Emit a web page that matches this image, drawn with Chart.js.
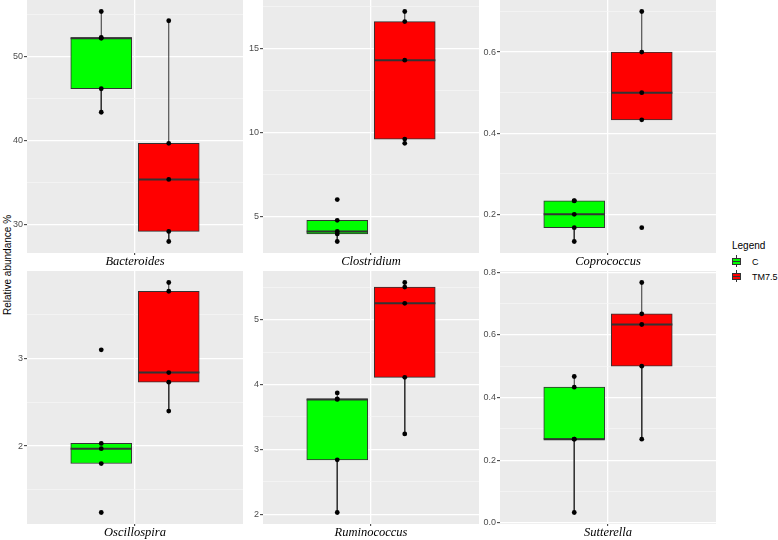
<!DOCTYPE html>
<html>
<head>
<meta charset="utf-8">
<script src="https://cdn.jsdelivr.net/npm/chart.js@4.4.0/dist/chart.umd.min.js"></script>
<style>
  body { margin: 0; width: 778px; height: 540px; overflow: hidden; position: relative; background: #fff;
         font-family: "Liberation Sans", Arial, sans-serif; }
  canvas { position: absolute; }
  #ytitle { position: absolute; left: 7px; top: 265px; transform: translate(-50%, -50%) rotate(-90deg);
            font-size: 10px; white-space: nowrap; color: #000; }
  .lgTitle { position: absolute; left: 732px; top: 245px; transform: translateY(-50%); font-size: 10px; color: #000; }
  .lgLab { position: absolute; left: 752px; font-size: 9px; color: #000; transform: translateY(-50%); }
  .key { position: absolute; left: 732px; width: 9px; height: 12px; }
  .key .wh { position: absolute; left: 4px; top: 0; width: 1px; height: 12px; background: #333; }
  .key .bx { position: absolute; left: 0; top: 3px; width: 7px; height: 5px; border: 1px solid #333; }
  .key .md { position: absolute; left: 0; top: 5.5px; width: 9px; height: 1.5px; background: #333; }
</style>
</head>
<body>
<div id="ytitle">Relative abundance %</div>
<div class="lgTitle">Legend</div>
<div class="key" style="top:255px"><span class="wh"></span><span class="bx" style="background:#00FF00"></span><span class="md"></span></div>
<div class="lgLab" style="top:262px">C</div>
<div class="key" style="top:270px"><span class="wh"></span><span class="bx" style="background:#FF0000"></span><span class="md"></span></div>
<div class="lgLab" style="top:277px">TM7.5</div>
<script>
// genus panels, in facet order
const taxa = ['Bacteroides', 'Clostridium', 'Coprococcus', 'Oscillospira', 'Ruminococcus', 'Sutterella'];
const groups = ['C', 'TM7.5'];
const groupColors = ['#00FF00', '#FF0000'];

// relative abundance (%) per sample
const cValues = [
  [43.4, 46.2, 52.2, 52.3, 55.4],
  [3.5, 3.95, 4.1, 4.76, 6.0],
  [0.133, 0.167, 0.2, 0.233, 0.234],
  [1.24, 1.8, 1.97, 2.03, 3.1],
  [2.03, 2.84, 3.77, 3.78, 3.87],
  [0.033, 0.267, 0.267, 0.433, 0.467]
];
const tmValues = [
  [28.0, 29.2, 35.4, 39.7, 54.3],
  [9.35, 9.6, 14.3, 16.6, 17.2],
  [0.167, 0.433, 0.5, 0.6, 0.7],
  [2.4, 2.73, 2.84, 3.77, 3.87],
  [3.24, 4.11, 5.25, 5.5, 5.57],
  [0.267, 0.5, 0.633, 0.667, 0.767]
];

// y ticks per panel
const yMajor = [[30, 40, 50], [5, 10, 15], [0.2, 0.4, 0.6], [2, 3], [2, 3, 4, 5], [0, 0.2, 0.4, 0.6, 0.8]];
const yLabels = [['30', '40', '50'], ['5', '10', '15'], ['0.2', '0.4', '0.6'], ['2', '3'], ['2', '3', '4', '5'],
                 ['0.0', '0.2', '0.4', '0.6', '0.8']];
const yMinor = [[35, 45, 55], [7.5, 12.5, 17.5], [0.3, 0.5, 0.7], [1.5, 2.5, 3.5], [2.5, 3.5, 4.5, 5.5], [0.1, 0.3, 0.5, 0.7]];

const groupX = [0.8125, 1.1875];
const halfBox = 0.17;
const panelLeft = [27, 263, 500];
const panelTop = [0, 271];
const PW = 216, PH = 253, AXW = 27, AXH = 18, PADT = 6;

function quant(s, p){
  const h = (s.length - 1) * p, lo = Math.floor(h);
  const hi = Math.min(lo + 1, s.length - 1);
  return s[lo] + (h - lo) * (s[hi] - s[lo]);
}
function boxStats(vals){
  const s = [...vals].sort((a, b) => a - b);
  const q1 = quant(s, 0.25), med = quant(s, 0.5), q3 = quant(s, 0.75);
  const iqr = q3 - q1;
  const lo = Math.min(...s.filter(v => v >= q1 - 1.5 * iqr));
  const hi = Math.max(...s.filter(v => v <= q3 + 1.5 * iqr));
  return { q1, med, q3, lo, hi };
}

const panelBg = {
  id: 'panelBg',
  beforeDraw(chart){
    const { ctx, chartArea: a } = chart;
    ctx.save();
    ctx.fillStyle = '#EBEBEB';
    ctx.fillRect(a.left, a.top, a.right - a.left, a.bottom - a.top);
    ctx.restore();
  }
};

function makePanel(i){
  const row = Math.floor(i / 3), col = i % 3;
  const cv = document.createElement('canvas');
  cv.width = AXW + PW; cv.height = PADT + PH + AXH;
  cv.style.left = (panelLeft[col] - AXW) + 'px';
  cv.style.top = (panelTop[row] - PADT) + 'px';
  document.body.appendChild(cv);

  const all = cValues[i].concat(tmValues[i]);
  const mn = Math.min(...all), mx = Math.max(...all), pad = (mx - mn) * 0.05;
  const ymin = mn - pad, ymax = mx + pad;
  const majors = yMajor[i];
  const ticks = majors.concat(yMinor[i]).filter(v => v >= ymin && v <= ymax).sort((a, b) => a - b);
  const isMajor = v => majors.includes(v);

  const stats = [boxStats(cValues[i]), boxStats(tmValues[i])];
  const whiskers = [], medians = [], dots = [];
  stats.forEach((s, g) => {
    const x = groupX[g];
    if (s.hi > s.q3) whiskers.push({ x, y: s.q3 }, { x, y: s.hi }, { x, y: null });
    if (s.lo < s.q1) whiskers.push({ x, y: s.q1 }, { x, y: s.lo }, { x, y: null });
    medians.push({ x: x - halfBox, y: s.med }, { x: x + halfBox, y: s.med }, { x, y: null });
  });
  [cValues[i], tmValues[i]].forEach((vals, g) => vals.forEach(v => dots.push({ x: groupX[g], y: v })));

  new Chart(cv, {
    type: 'scatter',
    data: {
      datasets: [
        { type: 'scatter', data: dots, pointRadius: 2.4, pointBorderWidth: 0,
          pointBackgroundColor: '#000', order: 0 },
        { type: 'line', data: medians, borderColor: '#333333', borderWidth: 2, pointRadius: 0,
          spanGaps: false, order: 1 },
        { type: 'bar', data: groupX.map((x, g) => ({ x, y: [stats[g].q1, stats[g].q3] })),
          backgroundColor: groupColors, borderColor: '#333333', borderWidth: 1, borderSkipped: false,
          barThickness: 61, order: 2 },
        { type: 'line', data: whiskers, borderColor: '#333333', borderWidth: 1, pointRadius: 0,
          spanGaps: false, order: 3 }
      ]
    },
    options: {
      responsive: false,
      animation: false,
      events: [],
      layout: { padding: { top: PADT, left: 0, right: 0, bottom: 0 }, autoPadding: false },
      plugins: { legend: { display: false }, tooltip: { enabled: false } },
      scales: {
        x: {
          type: 'linear', min: 0.4, max: 1.6, offset: false,
          afterBuildTicks: s => { s.ticks = [{ value: 1 }]; },
          afterFit: s => { s.height = AXH; s.paddingLeft = 0; s.paddingRight = 0; },
          ticks: { callback: () => taxa[i], autoSkip: false, maxRotation: 0, padding: -1, color: '#000',
                   font: { family: '"Liberation Serif", "Times New Roman", serif', style: 'italic', size: 12.5 } },
          grid: { offset: false, color: '#FFFFFF', lineWidth: 1.3, tickColor: '#333333', tickLength: 2, tickWidth: 1 },
          border: { display: false }
        },
        y: {
          type: 'linear', min: ymin, max: ymax,
          afterBuildTicks: s => { s.ticks = ticks.map(v => ({ value: v })); },
          afterFit: s => { s.width = AXW; s.paddingTop = 0; s.paddingBottom = 0; },
          ticks: {
            callback: v => { const k = majors.indexOf(v); return k >= 0 ? yLabels[i][k] : ''; },
            autoSkip: false, padding: 1, color: '#4D4D4D',
            font: { family: '"Liberation Sans", Arial, sans-serif', size: 9 }
          },
          grid: {
            color: c => isMajor(c.tick.value) ? '#FFFFFF' : '#F7F7F7',
            lineWidth: c => isMajor(c.tick.value) ? 1.3 : 0.7,
            tickColor: c => isMajor(c.tick.value) ? '#333333' : 'rgba(0,0,0,0)',
            tickLength: 3, tickWidth: 1
          },
          border: { display: false }
        }
      }
    },
    plugins: [panelBg]
  });
}

taxa.forEach((t, i) => makePanel(i));
</script>
</body>
</html>
